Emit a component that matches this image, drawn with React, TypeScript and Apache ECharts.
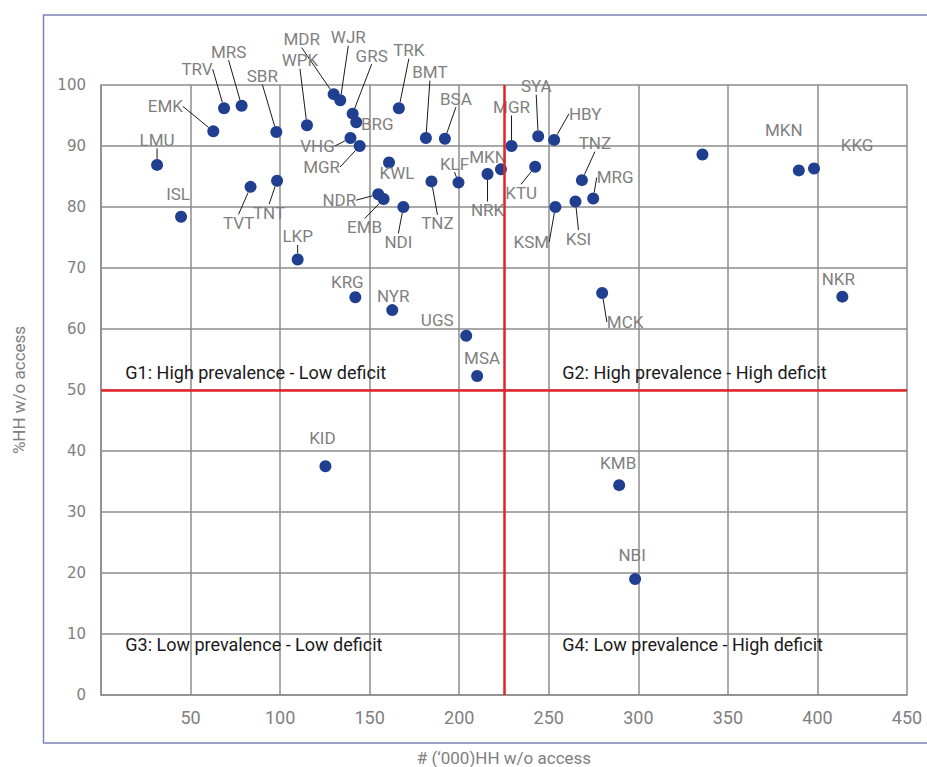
import React, { useEffect, useRef } from "react";
import * as echarts from "echarts";

// Data
const names = [
  "TRV", "MRS", "EMK", "SBR", "LMU", "TVT", "TNT", "ISL", "LKP",
  "MDR", "WJR", "WPK", "GRS", "BRG", "VHG", "MGR", "TRK", "BMT", "BSA",
  "KWL", "TNZ", "KLF", "NDR", "EMB", "NDI",
  "MGR", "SYA", "HBY", "MKN", "NRK", "KTU", "TNZ", "MRG", "KSI", "KSM", "MCK",
  "", "MKN", "KKG", "NKR",
  "KRG", "NYR", "UGS", "MSA", "KID", "KMB", "NBI",
];
const householdsK = [
  68.7, 78.5, 62.7, 97.9, 31.3, 83.5, 98.3, 44.7, 109.8,
  129.9, 133.6, 115.0, 140.5, 142.5, 139.3, 144.4, 166.3, 181.4, 192.0,
  160.8, 184.5, 199.6, 154.8, 157.8, 168.8,
  229.2, 244.1, 253.0, 223.3, 215.8, 242.4, 268.5, 274.8, 264.9, 253.7, 279.8,
  335.8, 389.6, 398.1, 413.9,
  142.0, 162.6, 203.9, 210.0, 125.3, 289.3, 298.2,
];
const pctWithoutAccess = [
  96.2, 96.6, 92.4, 92.3, 86.9, 83.3, 84.3, 78.4, 71.4,
  98.5, 97.5, 93.4, 95.3, 93.9, 91.3, 90.0, 96.2, 91.3, 91.2,
  87.3, 84.2, 84.0, 82.1, 81.3, 80.0,
  90.0, 91.6, 91.0, 86.2, 85.4, 86.6, 84.4, 81.4, 80.9, 80.0, 65.9,
  88.6, 86.0, 86.3, 65.3,
  65.2, 63.1, 58.9, 52.3, 37.5, 34.4, 19.0,
];
const xTicks = [0, 50, 100, 150, 200, 250, 300, 350, 400, 450];
const yTicks = [0, 10, 20, 30, 40, 50, 60, 70, 80, 90, 100];
const quadrantNames = [
  "G1: High prevalence - Low deficit",
  "G2: High prevalence - High deficit",
  "G3: Low prevalence - Low deficit",
  "G4: Low prevalence - High deficit",
];
const quadrantX = [13.6, 257.5, 13.6, 257.5];
const quadrantY = [52.8, 52.8, 8.2, 8.2];
const deficitThreshold = 225;
const prevalenceThreshold = 50;

// Label placement (offsets in px from point centre) and leader-line flags
const labelDx = [
  -27, -13, -48, -14, 0, -12, -8, -3, 0,
  -32, 8, -7, 19, 21, -33, -38, 10, 4, 11,
  8, 6, -4, -39, -19, -5,
  0, -2, 31, -13, 0, -14, 13, 22, 3, -24, 23,
  0, -15, 43, -4,
  -8, 1, -29, 5, -3, -1, -3,
];
const labelDy = [
  -39, -54, -25, -56, -25, 36, 32, -23, -23,
  -55, -63, -65, -58, 2, 8, 21, -58, -66, -40,
  11, 42, -19, 6, 28, 35,
  -39, -50, -26, -12, 36, 26, -37, -21, 37, 35, 29,
  0, -40, -24, -18,
  -15, -14, -16, -18, -28, -22, -24,
];
const leader = [
  1, 1, 1, 1, 1, 1, 1, 0, 1,
  1, 1, 1, 1, 0, 1, 1, 1, 1, 1,
  0, 1, 1, 1, 1, 1,
  1, 1, 1, 0, 1, 1, 1, 1, 1, 1, 1,
  0, 0, 0, 0,
  0, 0, 0, 0, 0, 0, 0,
];

const LABEL_FONT = "Roboto, sans-serif";

export default function App() {
  const ref = useRef<HTMLDivElement>(null);

  useEffect(() => {
    if (!ref.current) return;
    const chart = echarts.init(ref.current, undefined, { renderer: "svg" });

    const points = names.map((n, i) => ({
      name: n,
      value: [householdsK[i], pctWithoutAccess[i]],
      labelLine: { show: leader[i] === 1 },
    }));

    chart.setOption({
      animation: false,
      backgroundColor: "#ffffff",
      graphic: [
        {
          type: "rect",
          shape: { x: 43.5, y: 15, width: 900, height: 728 },
          style: { fill: "none", stroke: "#7d83bb", lineWidth: 1.5 },
          z: -1,
        },
      ],
      grid: {
        left: 101,
        right: 20,
        top: 85,
        bottom: 72,
        containLabel: false,
        outerBoundsMode: "none",
      },
      xAxis: {
        type: "value",
        min: xTicks[0],
        max: xTicks[xTicks.length - 1],
        interval: xTicks[1] - xTicks[0],
        name: "# (\u2018000)HH w/o access",
        nameLocation: "middle",
        nameGap: 54,
        nameTextStyle: { color: "#808080", fontSize: 17, fontFamily: LABEL_FONT },
        axisLine: { show: true, lineStyle: { color: "#8c8c8c", width: 1.5 } },
        axisTick: { show: false },
        axisLabel: {
          showMinLabel: false,
          color: "#808080",
          fontSize: 18,
          fontFamily: "Roboto, sans-serif",
          margin: 13,
        },
        splitLine: { show: true, lineStyle: { color: "#8c8c8c", width: 1.5 } },
      },
      yAxis: {
        type: "value",
        min: yTicks[0],
        max: yTicks[yTicks.length - 1],
        interval: yTicks[1] - yTicks[0],
        name: "%HH w/o access",
        nameLocation: "middle",
        nameGap: 74,
        nameTextStyle: { color: "#808080", fontSize: 17, fontFamily: LABEL_FONT },
        axisLine: { show: true, lineStyle: { color: "#8c8c8c", width: 1.5 } },
        axisTick: { show: false },
        axisLabel: {
          color: "#808080",
          fontSize: 15,
          fontFamily: "'DejaVu Sans', sans-serif",
          margin: 15,
        },
        splitLine: { show: true, lineStyle: { color: "#8c8c8c", width: 1.5 } },
      },
      series: [
        {
          type: "scatter",
          symbol: "circle",
          symbolSize: 12,
          itemStyle: { color: "#213f91", opacity: 1 },
          data: points,
          label: {
            show: true,
            position: "inside",
            formatter: "{b}",
            color: "#7f7f7f",
            fontSize: 17,
            lineHeight: 15,
            fontFamily: LABEL_FONT,
          },
          labelLine: {
            show: false,
            lineStyle: { color: "#1a1a1a", width: 1 },
          },
          labelLayout: (params: any) => ({
            dx: labelDx[params.dataIndex],
            dy: labelDy[params.dataIndex],
            hideOverlap: false,
          }),
          markLine: {
            silent: true,
            symbol: "none",
            label: { show: false },
            lineStyle: { color: "#e0242b", width: 2.5, type: "solid" },
            data: [{ xAxis: deficitThreshold }, { yAxis: prevalenceThreshold }],
          },
          markPoint: {
            silent: true,
            symbol: "circle",
            symbolSize: 0,
            label: {
              show: true,
              position: "right",
              distance: 0,
              formatter: "{b}",
              color: "#1a1a1a",
              fontSize: 18,
              fontFamily: LABEL_FONT,
            },
            data: quadrantNames.map((q, i) => ({
              name: q,
              coord: [quadrantX[i], quadrantY[i]],
            })),
          },
          z: 3,
        },
      ],
    });

    return () => chart.dispose();
  }, []);

  return (
    <div
      ref={ref}
      style={{ position: "fixed", left: 0, top: 0, width: 927, height: 767 }}
    />
  );
}
